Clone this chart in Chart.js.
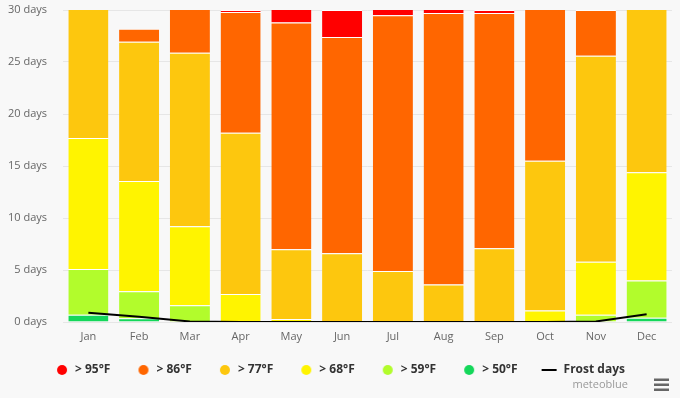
<!DOCTYPE html>
<html>
<head>
<meta charset="utf-8">
<script src="https://cdn.jsdelivr.net/npm/chart.js@4/dist/chart.umd.min.js"></script>
<style>
  html, body { margin: 0; padding: 0; background: #f8f8f8; }
  #wrap { width: 680px; height: 398px; }
</style>
</head>
<body>
<div id="wrap"><canvas id="chart" width="680" height="398"></canvas></div>
<script>
// days per month with max temperature above each threshold
var months = ['Jan', 'Feb', 'Mar', 'Apr', 'May', 'Jun', 'Jul', 'Aug', 'Sep', 'Oct', 'Nov', 'Dec'];
var over50 = [0.7, 0.35, 0, 0, 0, 0, 0, 0, 0, 0, 0, 0.4];
var over59 = [4.4, 2.6, 1.6, 0, 0, 0, 0, 0, 0, 0, 0.7, 3.6];
var over68 = [12.6, 10.6, 7.6, 2.7, 0.3, 0, 0, 0, 0, 1.1, 5.1, 10.4];
var over77 = [13.3, 13.4, 16.7, 15.5, 6.7, 6.6, 4.9, 3.6, 7.1, 14.4, 19.8, 16.6];
var over86 = [0, 1.25, 5.1, 11.6, 21.8, 20.8, 24.6, 26.1, 22.6, 15.5, 4.4, 0];
var over95 = [0, 0, 0, 0.2, 2.2, 2.6, 1.5, 1.3, 0.3, 0, 0, 0];
var frostDays = [0.9, 0.5, 0.05, 0, 0, 0, 0, 0, 0, 0, 0.05, 0.75];
var yTicks = [0, 5, 10, 15, 20, 25, 30];

var font = "'Open Sans', 'DejaVu Sans', sans-serif";
var markW = 22; // legend symbol box width

function barSet(label, data, color) {
  return {
    type: 'bar',
    label: label,
    data: data,
    backgroundColor: color,
    borderColor: '#ffffff',
    borderWidth: { top: 1, left: 0, right: 0, bottom: 0 },
    borderSkipped: false,
    barPercentage: 0.79,
    categoryPercentage: 1,
    stack: 'temp',
    clip: 0
  };
}

// legend symbols, drawn near the right end of the symbol box
function mark(color, isLine) {
  var c = document.createElement('canvas');
  c.width = markW;
  c.height = 12;
  var g = c.getContext('2d');
  g.fillStyle = color;
  if (isLine) {
    g.fillRect(6, 5, 15, 2);
  } else {
    g.beginPath();
    g.arc(15, 6, 5, 0, Math.PI * 2);
    g.fill();
  }
  return c;
}

var credits = {
  id: 'credits',
  afterDraw: function(chart) {
    var ctx = chart.ctx;
    ctx.save();
    ctx.fillStyle = '#999999';
    ctx.font = '11px ' + font;
    ctx.textAlign = 'right';
    ctx.textBaseline = 'middle';
    ctx.fillText('meteoblue', 628, 385);
    ctx.fillStyle = '#666666';
    ctx.fillRect(654, 378.5, 15, 2.5);
    ctx.fillRect(654, 383.5, 15, 2.5);
    ctx.fillRect(654, 388.5, 15, 2.5);
    ctx.restore();
  }
};

new Chart(document.getElementById('chart'), {
  data: {
    labels: months,
    datasets: [
      barSet('> 50°F', over50, '#14d75a'),
      barSet('> 59°F', over59, '#b2fc2c'),
      barSet('> 68°F', over68, '#fff400'),
      barSet('> 77°F', over77, '#fdc70e'),
      barSet('> 86°F', over86, '#ff6600'),
      barSet('> 95°F', over95, '#ff0000'),
      {
        type: 'line',
        label: 'Frost days',
        data: frostDays,
        borderColor: '#000000',
        backgroundColor: '#000000',
        borderWidth: 2,
        pointRadius: 0,
        tension: 0,
        stack: 'frost',
        order: -1
      }
    ]
  },
  options: {
    responsive: false,
    animation: false,
    layout: { padding: { top: 10, right: 8, bottom: 12, left: 0 } },
    scales: {
      x: {
        stacked: true,
        grid: { display: false, drawTicks: false },
        border: { display: false },
        ticks: { color: '#666666', font: { family: font, size: 11 }, padding: 8 },
        afterFit: function(scale) { scale.height = 24; }
      },
      y: {
        stacked: true,
        min: 0,
        max: 30,
        afterBuildTicks: function(scale) {
          scale.ticks = yTicks.map(function(v) { return { value: v }; });
        },
        grid: { color: '#e6e6e6', drawTicks: false },
        border: { display: false },
        ticks: {
          color: '#666666',
          font: { family: font, size: 11 },
          padding: 16,
          callback: function(v) { return v + ' days'; }
        },
        afterFit: function(scale) {
          scale.width = 63;
          scale.paddingTop = 7;
          scale.paddingBottom = 7;
        }
      }
    },
    plugins: {
      tooltip: { enabled: false },
      legend: {
        position: 'bottom',
        labels: {
          usePointStyle: true,
          pointStyleWidth: markW,
          boxHeight: 7,
          padding: 18,
          color: '#333333',
          font: { family: font, size: 12, weight: 'bold' },
          generateLabels: function(chart) {
            var items = Chart.defaults.plugins.legend.labels.generateLabels(chart);
            items.forEach(function(it) {
              var ds = chart.data.datasets[it.datasetIndex];
              it.pointStyle = mark(ds.type === 'line' ? '#000000' : ds.backgroundColor, ds.type === 'line');
              it.lineWidth = 0;
            });
            return items;
          },
          sort: function(a, b) {
            function key(it) { return it.text === 'Frost days' ? 100 : -it.datasetIndex; }
            return key(a) - key(b);
          }
        }
      }
    }
  },
  plugins: [credits]
});
</script>
</body>
</html>
